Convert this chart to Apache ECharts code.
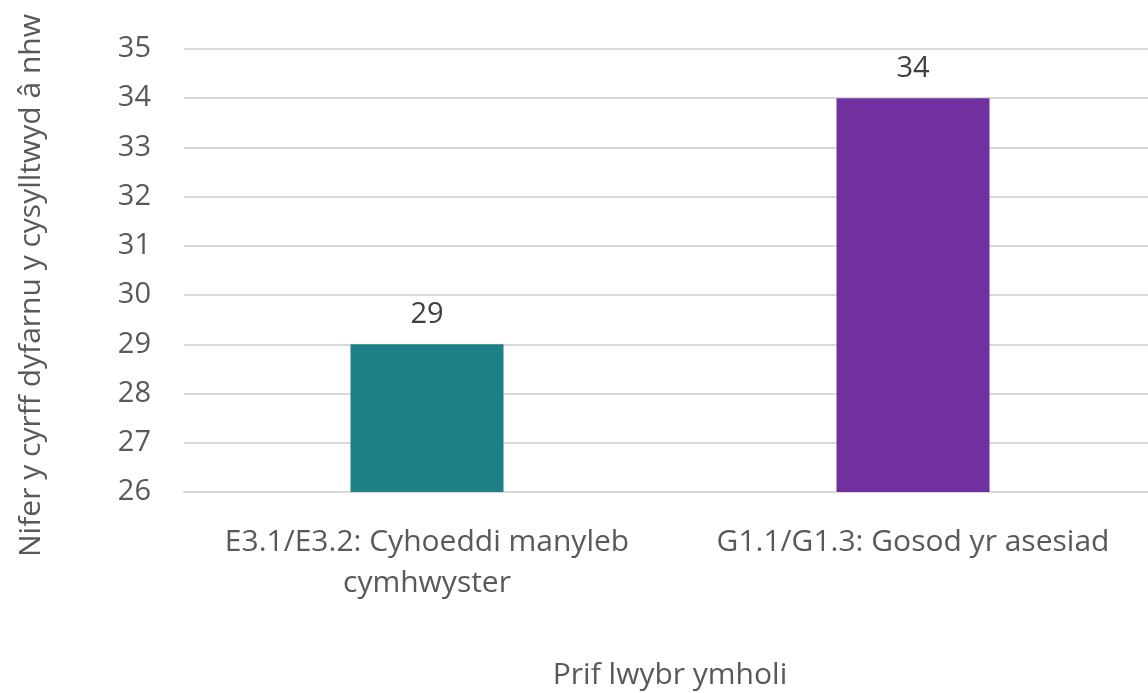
<!DOCTYPE html>
<html>
  <head>
    <meta charset="utf-8" />
    <title>Prif lwybr ymholi</title>
    <script src="https://cdn.jsdelivr.net/npm/echarts@6/dist/echarts.min.js"></script>
    <style>
      html, body { margin: 0; padding: 0; background: #fff; }
      #chart { width: 1148px; height: 693px; }
    </style>
  </head>
  <body>
    <div id="chart"></div>
    <script type="text/javascript">
      // data
      var categories = ["E3.1/E3.2: Cyhoeddi manyleb\ncymhwyster", "G1.1/G1.3: Gosod yr asesiad"];
      var values = [29, 34];
      var barColors = ["#1F7F86", "#7030A0"];

      var font = "'Open Sans', 'Noto Sans', sans-serif";

      var myChart = echarts.init(document.getElementById("chart"));
      var option = {
        animation: false,
        grid: { left: 184, top: 49, width: 972, height: 443, outerBoundsMode: "none" },
        xAxis: {
          type: "category",
          data: categories,
          name: "Prif lwybr ymholi",
          nameLocation: "middle",
          nameGap: 168,
          nameTextStyle: { color: "#595959", fontSize: 30, fontFamily: font },
          axisLine: { lineStyle: { color: "#D9D9D9", width: 2 } },
          axisTick: { show: false },
          axisLabel: {
            color: "#595959",
            fontSize: 30,
            fontFamily: font,
            lineHeight: 41,
            margin: 30,
            interval: 0
          }
        },
        yAxis: {
          type: "value",
          min: 26,
          max: 35,
          interval: 1,
          name: "Nifer y cyrff dyfarnu y cysylltwyd â nhw",
          nameLocation: "middle",
          nameGap: 138,
          nameTextStyle: {
            color: "#595959",
            fontSize: 30,
            fontFamily: font,
            padding: [0, 30, 0, 0]
          },
          axisLine: { show: false },
          axisTick: { show: false },
          axisLabel: { color: "#595959", fontSize: 29, fontFamily: font, margin: 33 },
          splitLine: { lineStyle: { color: "#D9D9D9", width: 2 } }
        },
        series: [
          {
            type: "bar",
            barWidth: 153,
            data: values.map(function (v, i) {
              return { value: v, itemStyle: { color: barColors[i] } };
            }),
            label: {
              show: true,
              position: "top",
              distance: 15,
              color: "#404040",
              fontSize: 29,
              fontFamily: font
            }
          }
        ]
      };
      myChart.setOption(option);
    </script>
  </body>
</html>
